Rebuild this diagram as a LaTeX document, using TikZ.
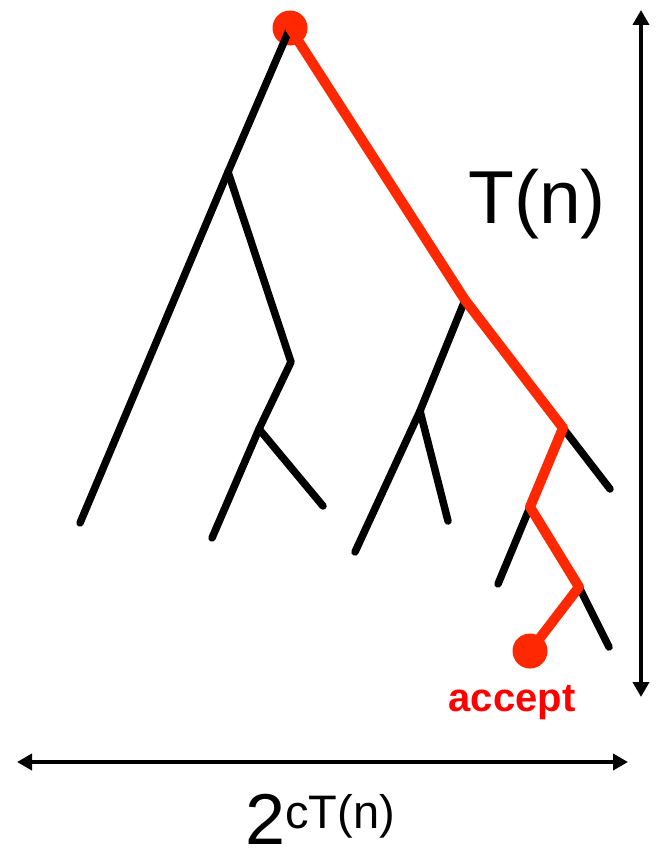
\documentclass[tikz,border=0pt]{standalone}
\usepackage{fontspec}
\setmainfont{Liberation Sans}
\usetikzlibrary{arrows.meta}
\definecolor{pathred}{RGB}{255,40,0}

\begin{document}
\begin{tikzpicture}[x=1pt,y=-1pt,
                    branch/.style={line width=7.5pt,line cap=round,line join=round},
                    route/.style={pathred,line width=10pt,line cap=round,line join=round},
                    dot/.style={circle,fill=pathred,inner sep=0pt,minimum size=35pt},
                    extent/.style={line width=4pt,{Triangle[width=16pt,length=15pt]}-{Triangle[width=16pt,length=15pt]}}]
                    \useasboundingbox(0,0)rectangle(658,851);
                    \node[dot](R)at(290,28){};
                    \coordinate(A)at(228,172);
                    \coordinate(A1)at(80,523);
                    \coordinate(B)at(291,362);
                    \coordinate(C)at(259,429);
                    \coordinate(C1)at(212,538);
                    \coordinate(C2)at(323,506);
                    \coordinate(D)at(465,300);
                    \coordinate(H)at(420,411);
                    \coordinate(H1)at(355,552);
                    \coordinate(H2)at(448,521);
                    \coordinate(E)at(563,428);
                    \coordinate(E1)at(610,489);
                    \coordinate(F)at(530,507);
                    \coordinate(F1)at(498,584);
                    \coordinate(G)at(579,587);
                    \coordinate(G1)at(609,647);
                    \node[dot](Z)at(530,651){};
                    \draw[branch](R.center)--(A)--(A1);
                    \draw[branch](A)--(B)--(C)--(C1);
                    \draw[branch](C)--(C2);
                    \draw[branch](D)--(H)--(H1);
                    \draw[branch](H)--(H2);
                    \draw[branch](E)--(E1);
                    \draw[branch](F)--(F1);
                    \draw[branch](G)--(G1);
                    \draw[route](R.center)--(D)--(E)--(F)--(G)--(Z.center);
                    \node[anchor=base,text=red,font=\fontsize{40}{44}\selectfont\bfseries,inner sep=0pt](acc)at(512,711){accept};
                    \coordinate(V1)at(641,10);
                    \coordinate(V2)at(641,697);
                    \draw[extent](V1)--(V2);
                    \node[anchor=base,font=\fontsize{75}{80}\selectfont,inner sep=0pt](tn)at(537,223){T(n)};
                    \coordinate(W1)at(17,762);
                    \coordinate(W2)at(628,762);
                    \draw[extent](W1)--(W2);
                    \node[anchor=base west,font=\fontsize{72}{78}\selectfont,inner sep=0pt](size)at(245,844){2\raisebox{16pt}{\fontsize{47}{52}\selectfont cT(n)}};
                \end{tikzpicture}
\end{document}
